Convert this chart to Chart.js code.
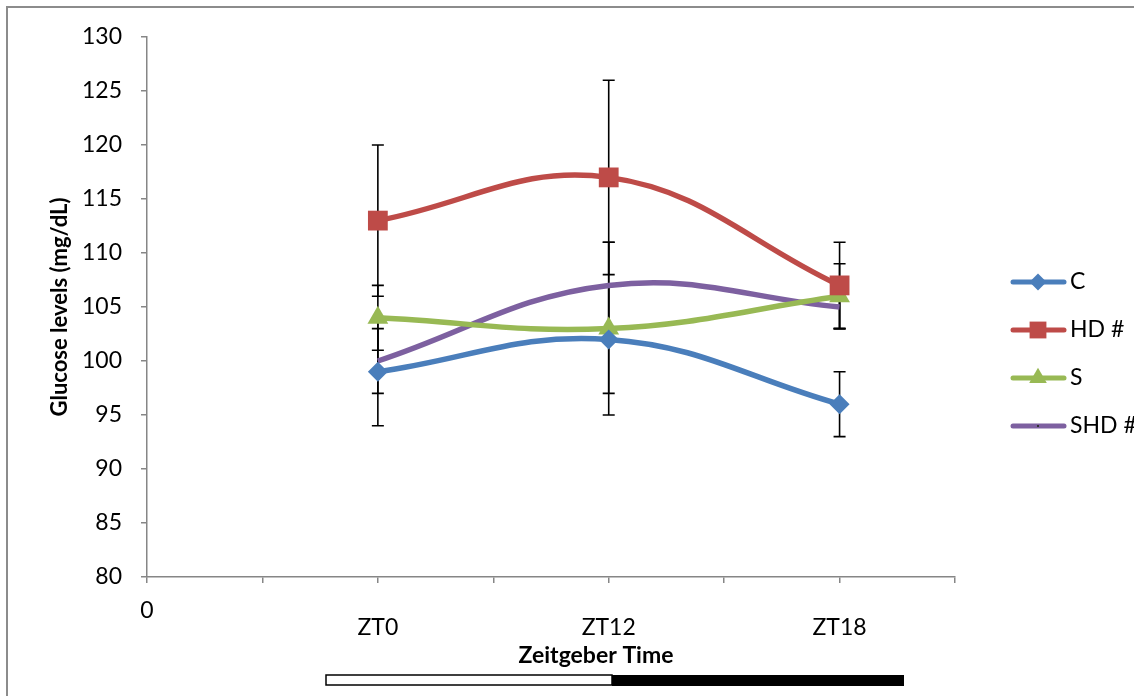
<!DOCTYPE html>
<html>
<head>
<meta charset="utf-8">
<script src="https://cdn.jsdelivr.net/npm/chart.js@4.4.0/dist/chart.umd.min.js"></script>
<style>
  body { margin: 0; background: #fff; }
  #wrap { width: 1134px; height: 696px; position: relative; }
</style>
</head>
<body>
<div id="wrap"><canvas id="glucoseChart"></canvas></div>
<script>
// time points (x positions 1, 2, 3 on the numeric axis)
const timeLabels = ['ZT0', 'ZT12', 'ZT18'];
const groupNames = ['C', 'HD #', 'S', 'SHD #'];

// mean glucose (mg/dL)
const cVals = [99, 102, 96];
const hdVals = [113, 117, 107];
const sVals = [104, 103, 106];
const shdVals = [100, 107, 105];

// error bar half-widths
const cErr = [5, 5, 3];
const hdErr = [7, 9, 4];
const sErr = [3, 8, 3];
const shdErr = [3, 4, 2];

const yTicks = [80, 85, 90, 95, 100, 105, 110, 115, 120, 125, 130];

const FONT = 'Lato, "Open Sans", sans-serif';
const AXIS_GREY = '#868686';

function toPoints(vals) {
  return vals.map((v, i) => ({ x: i + 1, y: v }));
}

function makeSet(label, vals, errs, color, style, radius) {
  return {
    label: label,
    data: toPoints(vals),
    errors: errs,
    borderColor: color,
    backgroundColor: color,
    borderWidth: 5.5,
    pointStyle: style,
    pointRadius: radius,
    pointBorderWidth: 0,
    pointBackgroundColor: color,
    tension: 0.4
  };
}

const datasets = [
  makeSet(groupNames[0], cVals, cErr, '#4A7EBB', 'rectRot', 10),
  makeSet(groupNames[1], hdVals, hdErr, '#BE4B48', 'rect', 14),
  makeSet(groupNames[2], sVals, sErr, '#98B954', 'triangle', 12),
  makeSet(groupNames[3], shdVals, shdErr, '#7D60A0', 'circle', 0)
];

// vertical error bars with caps, drawn under the lines
const errorBars = {
  id: 'errorBars',
  beforeDatasetsDraw(chart) {
    const { ctx, scales: { x, y } } = chart;
    ctx.save();
    ctx.strokeStyle = '#000';
    ctx.lineWidth = 1.6;
    chart.data.datasets.forEach(ds => {
      ds.data.forEach((p, i) => {
        const e = ds.errors[i];
        const px = x.getPixelForValue(p.x);
        const top = y.getPixelForValue(p.y + e);
        const bot = y.getPixelForValue(p.y - e);
        ctx.beginPath();
        ctx.moveTo(px, top); ctx.lineTo(px, bot);
        ctx.moveTo(px - 6, top); ctx.lineTo(px + 6, top);
        ctx.moveTo(px - 6, bot); ctx.lineTo(px + 6, bot);
        ctx.stroke();
      });
    });
    ctx.restore();
  }
};

// legend, axis title, light/dark bar and frame
const extras = {
  id: 'extras',
  afterDraw(chart) {
    const ctx = chart.ctx;
    ctx.save();

    // legend: line with marker
    chart.data.datasets.forEach((ds, i) => {
      const ly = 282 + i * 48;
      ctx.strokeStyle = ds.borderColor;
      ctx.lineWidth = 5;
      ctx.lineCap = 'round';
      ctx.beginPath();
      ctx.moveTo(1013, ly); ctx.lineTo(1064, ly);
      ctx.stroke();
      if (ds.pointRadius > 0) {
        ctx.fillStyle = ds.borderColor;
        Chart.helpers.drawPoint(ctx, { pointStyle: ds.pointStyle, radius: ds.pointRadius * 0.85, borderWidth: 0 }, 1038, ly);
      } else {
        ctx.fillStyle = '#333';
        ctx.fillRect(1037, ly - 1, 2, 2);
      }
      ctx.fillStyle = '#000';
      ctx.font = '23px ' + FONT;
      ctx.textAlign = 'left';
      ctx.textBaseline = 'middle';
      ctx.fillText(ds.label, 1070, ly);
    });

    // x axis title
    ctx.fillStyle = '#000';
    ctx.font = 'bold 23px ' + FONT;
    ctx.textAlign = 'center';
    ctx.textBaseline = 'alphabetic';
    ctx.fillText('Zeitgeber Time', 596, 663);

    // light / dark phase bar
    ctx.lineWidth = 1.5;
    ctx.strokeStyle = '#000';
    ctx.fillStyle = '#fff';
    ctx.fillRect(326, 675, 286, 10);
    ctx.strokeRect(326, 675, 286, 10);
    ctx.fillStyle = '#000';
    ctx.fillRect(612, 675, 292, 11);

    // frame
    ctx.strokeStyle = '#8c8c8c';
    ctx.lineWidth = 2;
    ctx.lineCap = 'butt';
    ctx.beginPath();
    ctx.moveTo(7, 696); ctx.lineTo(7, 7); ctx.lineTo(1134, 7);
    ctx.stroke();

    ctx.restore();
  }
};

const config = {
  type: 'line',
  data: { datasets: datasets },
  options: {
    responsive: true,
    maintainAspectRatio: false,
    animation: false,
    layout: { padding: { left: 0, top: 37, right: 179, bottom: 0 } },
    plugins: {
      legend: { display: false },
      tooltip: { enabled: false }
    },
    scales: {
      x: {
        type: 'linear',
        min: 0,
        max: 3.5,
        afterFit: s => { s.height = 119; },
        afterBuildTicks: s => {
          s.ticks = [0, 0.5, 1, 1.5, 2, 2.5, 3, 3.5].map(v => ({ value: v }));
        },
        ticks: {
          autoSkip: false,
          maxRotation: 0,
          padding: 20,
          color: '#000',
          font: { family: FONT, size: 23, lineHeight: 0.7 },
          callback: v => {
            if (v === 0) return '0';
            if (Number.isInteger(v) && timeLabels[v - 1]) return ['', timeLabels[v - 1]];
            return '';
          }
        },
        grid: { drawOnChartArea: false, drawTicks: true, tickLength: 6, color: AXIS_GREY, lineWidth: 1.5 },
        border: { display: true, color: AXIS_GREY, width: 1.5 }
      },
      y: {
        min: 80,
        max: 130,
        afterFit: s => { s.width = 147; },
        afterBuildTicks: s => { s.ticks = yTicks.map(v => ({ value: v })); },
        ticks: {
          padding: 19,
          color: '#000',
          font: { family: FONT, size: 23 }
        },
        title: {
          display: true,
          text: 'Glucose levels (mg/dL)',
          color: '#000',
          font: { family: FONT, size: 22, weight: 'bold' },
          padding: { top: 47, bottom: 0 }
        },
        grid: { drawOnChartArea: false, drawTicks: true, tickLength: 6, color: AXIS_GREY, lineWidth: 1.5 },
        border: { display: true, color: AXIS_GREY, width: 1.5 }
      }
    }
  },
  plugins: [errorBars, extras]
};

const glucoseChart = new Chart(document.getElementById('glucoseChart'), config);
</script>
</body>
</html>
